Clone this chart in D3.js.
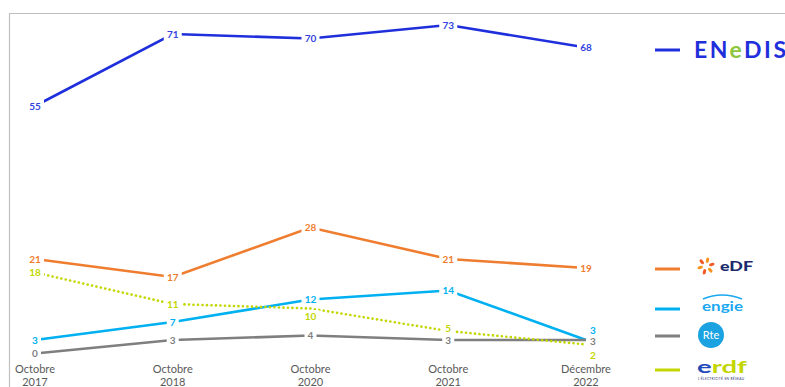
<!DOCTYPE html>
<html>
<head>
<meta charset="utf-8">
<script src="https://cdn.jsdelivr.net/npm/d3@7"></script>
<style>
  body { margin: 0; background: #fff; }
  svg { display: block; }
</style>
</head>
<body>
<svg id="chart" width="785" height="387"></svg>
<script>
// categories (two-line labels)
const periods = ["Octobre 2017", "Octobre 2018", "Octobre 2020", "Octobre 2021", "Décembre 2022"];

// series values
const enedis = [55, 71, 70, 73, 68];
const edf    = [21, 17, 28, 21, 19];
const engie  = [3, 7, 12, 14, 3];
const rte    = [0, 3, 4, 3, 3];
const erdf   = [18, 11, 10, 5, 2];

const series = [
  { key: "enedis", values: enedis, color: "#1f2fdc", dash: null },
  { key: "edf",    values: edf,    color: "#ef7d2f", dash: null },
  { key: "engie",  values: engie,  color: "#00b0f0", dash: null },
  { key: "rte",    values: rte,    color: "#7f7f7f", dash: null },
  { key: "erdf",   values: erdf,   color: "#c3d600", dash: "0.1 4.4" }
];

// label nudges where Excel moved them off the point
const nudge = {
  "erdf-2": [0, 8], "erdf-3": [0, -3],
  "engie-4": [7, -10], "rte-4": [7, 1], "erdf-4": [7, 11]
};

const svg = d3.select("#chart");

// frame
svg.append("path")
  .attr("d", "M9.5,387V13.5H785")
  .attr("fill", "none")
  .attr("stroke", "#bfbfbf")
  .attr("stroke-width", 1.2);

const x = d3.scalePoint().domain(periods).range([35, 586]);
const y = d3.scaleLinear().domain([0, 75]).range([353.5, 16]);

const line = d3.line()
  .x((d, i) => x(periods[i]))
  .y(d => y(d));

const gLines = svg.append("g");
series.forEach(s => {
  gLines.append("path")
    .datum(s.values)
    .attr("d", line)
    .attr("fill", "none")
    .attr("stroke", s.color)
    .attr("stroke-width", 2.6)
    .attr("stroke-linecap", s.dash ? "round" : "butt")
    .attr("stroke-dasharray", s.dash);
});

// data labels with white boxes that cut the lines
const gLabels = svg.append("g")
  .attr("font-family", "Lato, 'Open Sans', sans-serif")
  .attr("font-size", 10)
  .attr("font-weight", "bold");

series.forEach(s => {
  s.values.forEach((v, i) => {
    const n = nudge[s.key + "-" + i] || [0, 0];
    const cx = x(periods[i]) + n[0];
    const cy = y(v) + n[1];
    const w = String(v).length * 6 + 6;
    gLabels.append("rect")
      .attr("x", cx - w / 2)
      .attr("y", cy - 6.5)
      .attr("width", w)
      .attr("height", 13)
      .attr("fill", "#fff");
    gLabels.append("text")
      .attr("x", cx)
      .attr("y", cy + 3.6)
      .attr("text-anchor", "middle")
      .attr("fill", s.key === "enedis" ? "#3444e0" : s.color)
      .text(v);
  });
});

// category axis labels
const gAxis = svg.append("g")
  .attr("font-family", "Lato, 'Open Sans', sans-serif")
  .attr("font-size", 11)
  .attr("fill", "#595959")
  .attr("text-anchor", "middle");

periods.forEach(p => {
  const parts = p.split(" ");
  const t = gAxis.append("text").attr("x", x(p)).attr("y", 373);
  t.append("tspan").attr("x", x(p)).text(parts[0]);
  t.append("tspan").attr("x", x(p)).attr("dy", 13).text(parts[1]);
});

// legend: short line + logo
const legendY = { enedis: 50, edf: 269, engie: 309, rte: 336, erdf: 370 };
const gLeg = svg.append("g");
series.forEach(s => {
  gLeg.append("line")
    .attr("x1", 655).attr("x2", 680)
    .attr("y1", legendY[s.key]).attr("y2", legendY[s.key])
    .attr("stroke", s.color)
    .attr("stroke-width", 3);
});

// Enedis logo
const en = gLeg.append("text")
  .attr("x", 694).attr("y", 58)
  .attr("font-family", "Lato, sans-serif")
  .attr("font-weight", "bold")
  .attr("font-size", 23)
  .attr("letter-spacing", 2.5)
  .attr("fill", "#1f2fdc");
en.append("tspan").text("EN");
en.append("tspan").attr("fill", "#8cc63f").text("e");
en.append("tspan").text("DIS");

// EDF logo: orange petals + text
const star = gLeg.append("g").attr("transform", "translate(706,266)");
d3.range(6).forEach(k => {
  star.append("ellipse")
    .attr("cx", 0).attr("cy", -6)
    .attr("rx", 1.6).attr("ry", 2.8)
    .attr("fill", k % 2 ? "#f05a28" : "#f7941d")
    .attr("transform", `rotate(${k * 60 + 15})`);
});
gLeg.append("text")
  .attr("x", 720).attr("y", 271)
  .attr("font-family", "Lato, sans-serif")
  .attr("font-weight", "900")
  .attr("font-size", 14)
  .attr("textLength", 33)
  .attr("lengthAdjust", "spacingAndGlyphs")
  .attr("fill", "#1b2a6b")
  .text("eDF");

// Engie logo
gLeg.append("path")
  .attr("d", "M703,299 Q722,291 742,299")
  .attr("fill", "none")
  .attr("stroke", "#1aa8f0")
  .attr("stroke-width", 1.4);
gLeg.append("text")
  .attr("x", 702).attr("y", 311)
  .attr("font-family", "Lato, sans-serif")
  .attr("font-weight", "bold")
  .attr("font-size", 14)
  .attr("textLength", 41)
  .attr("lengthAdjust", "spacingAndGlyphs")
  .attr("fill", "#1aa8f0")
  .text("engie");

// Rte logo
gLeg.append("circle")
  .attr("cx", 711).attr("cy", 335).attr("r", 13)
  .attr("fill", "#1aa3e0");
gLeg.append("text")
  .attr("x", 711).attr("y", 339)
  .attr("text-anchor", "middle")
  .attr("font-family", "Lato, sans-serif")
  .attr("font-size", 11)
  .attr("fill", "#fff")
  .text("Rte");

// ERDF logo
const er = gLeg.append("text")
  .attr("x", 697).attr("y", 373)
  .attr("font-family", "Lato, sans-serif")
  .attr("font-weight", "bold")
  .attr("font-size", 17)
  .attr("textLength", 50)
  .attr("lengthAdjust", "spacingAndGlyphs")
  .attr("fill", "#c3d600");
er.append("tspan").attr("fill", "#1f4ab8").text("e");
er.append("tspan").text("rdf");
gLeg.append("text")
  .attr("x", 698).attr("y", 379.5)
  .attr("font-family", "Lato, sans-serif")
  .attr("font-size", 3.2)
  .attr("textLength", 46)
  .attr("fill", "#1b2a6b")
  .text("L'ÉLECTRICITÉ EN RÉSEAU");
</script>
</body>
</html>
